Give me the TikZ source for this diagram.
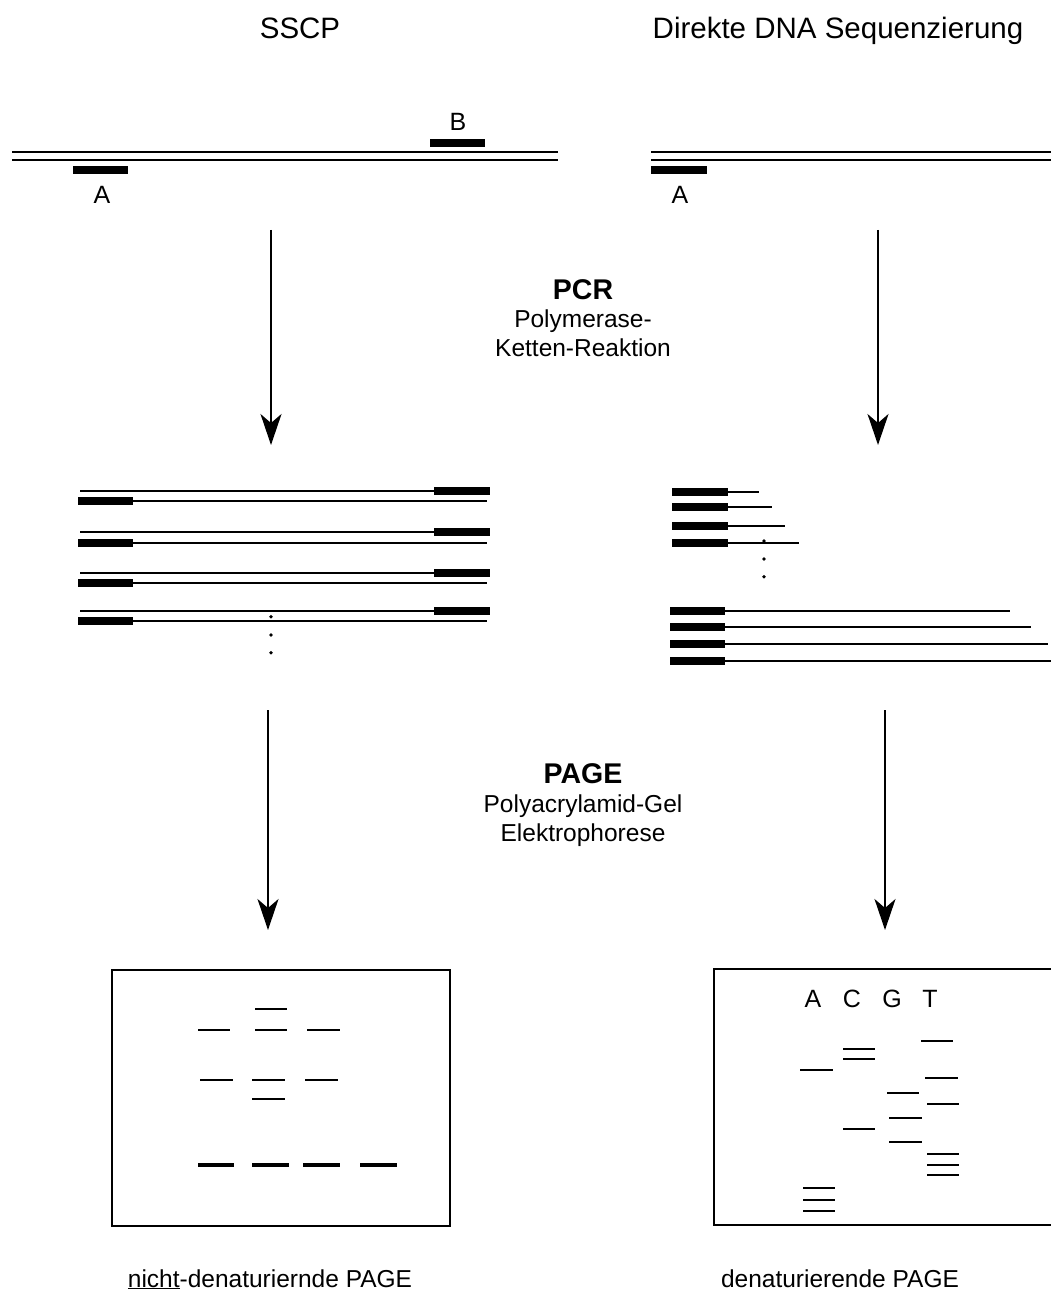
\documentclass[tikz,border=0pt]{standalone}
\usepackage{fontspec}
\setmainfont{Liberation Sans}
\usetikzlibrary{arrows.meta}
\begin{document}
\begin{tikzpicture}[x=1pt,y=-1pt,
  title/.style={font=\fontsize{29.5}{34}\selectfont, inner sep=0pt, anchor=base},
  lbl/.style={font=\fontsize{24.5}{29}\selectfont, inner sep=0pt, anchor=base},
  letter/.style={font=\fontsize{25}{29}\selectfont, inner sep=0pt, anchor=base},
  boldlbl/.style={font=\fontsize{28.5}{34}\selectfont\bfseries, inner sep=0pt, anchor=base},
  strand/.style={line width=1.8pt},
  primer/.style={line width=8pt},
  flow/.style={line width=2pt, -{Stealth[length=31pt,width=21pt,inset=9pt]}},
  gelbox/.style={line width=2pt},
  band/.style={line width=2pt},
  thickband/.style={line width=4.5pt},
  dotmark/.style={fill, circle, inner sep=0pt, minimum size=3.8pt}]
\useasboundingbox (0,0) rectangle (1050,1297);
\fill[white] (0,0) rectangle (1050,1297);

% titles
\node[title] (t1) at (300,39) {SSCP};
\node[title] (t2) at (838,39) {Direkte DNA Sequenzierung};

% ---- top left template
\coordinate (l1a) at (12,152);  \coordinate (l1b) at (558,152);
\coordinate (l2a) at (12,160);  \coordinate (l2b) at (558,160);
\draw[strand] (l1a) -- (l1b);
\draw[strand] (l2a) -- (l2b);
\coordinate (pBa) at (430,143); \coordinate (pBb) at (485,143);
\draw[primer] (pBa) -- (pBb);
\coordinate (pAa) at (73,170.5); \coordinate (pAb) at (128,170.5);
\draw[primer] (pAa) -- (pAb);
\node[letter] (labB) at (458,131) {B};
\node[letter] (labA) at (102,204) {A};

% ---- top right template
\coordinate (r1a) at (651,152);  \coordinate (r1b) at (1052,152);
\coordinate (r2a) at (651,160);  \coordinate (r2b) at (1052,160);
\draw[strand] (r1a) -- (r1b);
\draw[strand] (r2a) -- (r2b);
\coordinate (rAa) at (651,170.5); \coordinate (rAb) at (707,170.5);
\draw[primer] (rAa) -- (rAb);
\node[letter] (labA2) at (680,204) {A};

% ---- arrows
\coordinate (a1s) at (271,230); \coordinate (a1e) at (271,445);
\coordinate (a2s) at (878,230); \coordinate (a2e) at (878,445);
\coordinate (a3s) at (268,710); \coordinate (a3e) at (268,930);
\coordinate (a4s) at (885,710); \coordinate (a4e) at (885,930);
\draw[flow] (a1s) -- (a1e);
\draw[flow] (a2s) -- (a2e);
\draw[flow] (a3s) -- (a3e);
\draw[flow] (a4s) -- (a4e);

% ---- PCR label
\node[boldlbl] (pcr) at (583,299) {PCR};
\node[lbl] (pcr2) at (583,327) {Polymerase-};
\node[lbl] (pcr3) at (583,356) {Ketten-Reaktion};

% ---- PAGE label
\node[boldlbl] (page) at (583,783) {PAGE};
\node[lbl] (page2) at (583,812) {Polyacrylamid-Gel};
\node[lbl] (page3) at (583,841) {Elektrophorese};

% ---- left PCR products
\foreach \ty/\by [count=\i] in {490.7/501.3, 532.3/542.7, 572.7/583.3, 610.7/621}{
  \coordinate (u\i a) at (80,\ty);  \coordinate (u\i b) at (434,\ty);
  \coordinate (u\i c) at (490,\ty);
  \draw[strand] (u\i a) -- (u\i b);
  \draw[primer] (u\i b) -- (u\i c);
  \coordinate (d\i a) at (78,\by);  \coordinate (d\i b) at (133,\by);
  \coordinate (d\i c) at (487,\by);
  \draw[primer] (d\i a) -- (d\i b);
  \draw[strand] (d\i b) -- (d\i c);
}
\node[dotmark] (ld1) at (271,616.7) {};
\node[dotmark] (ld2) at (271,635) {};
\node[dotmark] (ld3) at (271,652.7) {};

% ---- right sequencing products (short)
\foreach \yy/\ee [count=\i] in {492.3/759, 506.7/771.7, 526/784.7, 543/798.7}{
  \coordinate (s\i a) at (672,\yy); \coordinate (s\i b) at (728,\yy);
  \coordinate (s\i c) at (\ee,\yy);
  \draw[primer] (s\i a) -- (s\i b);
  \draw[strand] (s\i b) -- (s\i c);
}
\node[dotmark] (rd1) at (764,541) {};
\node[dotmark] (rd2) at (764,559) {};
\node[dotmark] (rd3) at (764,576.7) {};
% long
\foreach \yy/\ee [count=\i] in {610.7/1010, 627.3/1030.7, 644/1047.7, 661/1052}{
  \coordinate (g\i a) at (670,\yy); \coordinate (g\i b) at (725,\yy);
  \coordinate (g\i c) at (\ee,\yy);
  \draw[primer] (g\i a) -- (g\i b);
  \draw[strand] (g\i b) -- (g\i c);
}

% ---- left gel
\draw[gelbox] (112,970) rectangle (450,1226);
\foreach \xa/\xb/\yy in {255/287/1009.3, 198/230/1030, 255/287/1030, 307/340/1030,
  200/233/1080.3, 252/285/1080.3, 305/338/1080.3, 252/285/1099.3}{
  \draw[band] (\xa,\yy) -- (\xb,\yy);
}
\foreach \xa/\xb in {198/234, 252/289, 303/340, 360/397}{
  \draw[thickband] (\xa,1165) -- (\xb,1165);
}

% ---- right gel
\draw[gelbox] (714,969) rectangle (1053,1225);
\node[letter] (gA) at (813,1007) {A};
\node[letter] (gC) at (852,1007) {C};
\node[letter] (gG) at (892,1007) {G};
\node[letter] (gT) at (930,1007) {T};
\foreach \xa/\xb/\yy in {800/833/1070, 803/835/1188.3, 803/835/1200, 803/835/1211,
  843/875/1049, 843/875/1059.3, 843/875/1129.3,
  887/919/1093.3, 889/922/1118.3, 889/922/1141.7,
  921/953/1040.7, 925/958/1078.3, 927/959/1103.7,
  927/959/1154, 927/959/1164.7, 927/959/1175.3}{
  \draw[band] (\xa,\yy) -- (\xb,\yy);
}

% ---- bottom captions
\node[lbl] (cap1) at (270,1287) {$\underline{\hbox{nicht}}$-denaturiernde PAGE};
\node[lbl] (cap2) at (840,1287) {denaturierende PAGE};
\end{tikzpicture}
\end{document}
